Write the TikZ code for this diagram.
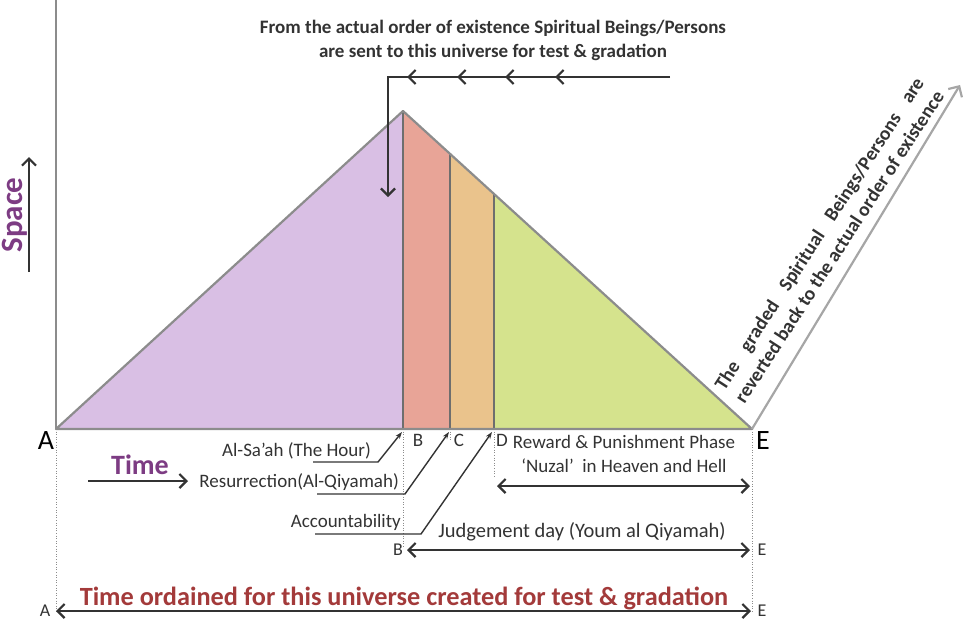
\documentclass[tikz,border=0pt]{standalone}
\usepackage{fontspec}
\setmainfont{Carlito}
\usetikzlibrary{arrows.meta,decorations.markings}
\definecolor{lav}{HTML}{D9BFE4}
\definecolor{salm}{HTML}{E8A497}
\definecolor{orng}{HTML}{EAC38C}
\definecolor{grn}{HTML}{D5E38D}
\definecolor{bord}{HTML}{8C8C8C}
\definecolor{divc}{HTML}{6E6E6E}
\definecolor{darkc}{HTML}{333333}
\definecolor{purp}{HTML}{7D3C83}
\definecolor{redc}{HTML}{A33A3A}
\definecolor{lgray}{HTML}{A6A6A6}
\definecolor{txt}{HTML}{333333}
\newlength\myLTw
\newcommand\myRetTwo{reverted back to the actual order of existence}
\begin{document}
\settowidth\myLTw{\bfseries\fontsize{19.5}{24}\selectfont\myRetTwo}%
\begin{tikzpicture}[x=1pt,y=-1pt,
  darkarrow/.style={draw=darkc, line width=2.2pt},
  barbtip/.style={-{Straight Barb[length=7pt,width=14pt,line width=2.2pt]}},
  dbltip/.style={{Straight Barb[length=7pt,width=14pt,line width=2.2pt]}-{Straight Barb[length=7pt,width=14pt,line width=2.2pt]}},
  leader/.style={draw=darkc, line width=1.4pt, -{Stealth[length=7pt,width=5pt]}},
  dotline/.style={draw=bord, line width=0.6pt, dotted},
  lbl/.style={text=txt, inner sep=0pt, font=\fontsize{19}{22}\selectfont},
  bigletter/.style={text=black, inner sep=0pt, font=\fontsize{28}{30}\selectfont},
  smallletter/.style={text=txt, inner sep=0pt, font=\fontsize{18}{20}\selectfont}]
\useasboundingbox (0,0) rectangle (963,622);
% key points
\coordinate (A) at (56,429);
\coordinate (P) at (403,111);
\coordinate (E) at (752,429);
\coordinate (B) at (403,429);
\coordinate (C) at (450,429);
\coordinate (D) at (494,429);
\coordinate (Ct) at (450,154);
\coordinate (Dt) at (494,194);
\coordinate (top) at (56,0);
% fills
\fill[lav] (A) -- (P) -- (B) -- cycle;
\fill[salm] (B) -- (P) -- (Ct) -- (C) -- cycle;
\fill[orng] (C) -- (Ct) -- (Dt) -- (D) -- cycle;
\fill[grn] (D) -- (Dt) -- (E) -- cycle;
% dividers
\draw[divc, line width=2pt] (B) -- (P) (C) -- (Ct) (D) -- (Dt);
% outline and axis
\draw[bord, line width=2.2pt] (top) -- (A);
\draw[bord, line width=2.2pt, line join=round] (A) -- (P) -- (E) -- cycle;
% dotted guides
\coordinate (Abot) at (56,612);
\coordinate (Ebot) at (752,612);
\coordinate (Bbot) at (403,548);
\coordinate (Cbot) at (450,440);
\coordinate (Dbot) at (494,478);
\draw[dotline] (A) -- (Abot) (E) -- (Ebot) (B) -- (Bbot) (C) -- (Cbot) (D) -- (Dbot);
% return arrow
\coordinate (R) at (960,85);
\draw[lgray, line width=2.2pt, -{Straight Barb[length=8pt,width=16pt,line width=2.2pt]}] (E) -- (R);
\node[rotate=57, align=center, text=txt, font=\bfseries\fontsize{19.5}{24}\selectfont] (ret) at (829,240)
  {\makebox[\myLTw][s]{The graded Spiritual Beings/Persons are}\\\myRetTwo};
% top text and arrow
\node[align=center, text=txt, font=\bfseries\fontsize{19}{24}\selectfont] (toptxt) at (493,40)
  {From the actual order of existence Spiritual Beings/Persons\\are sent to this universe for test \& gradation};
\coordinate (S0) at (670,77);
\coordinate (S1) at (388,77);
\coordinate (S2) at (388,197);
\draw[darkarrow, barbtip, line join=miter,
  postaction={decorate, decoration={markings,
    mark=at position 115pt with {\arrow{Straight Barb[length=7pt,width=14pt,line width=2.2pt]}},
    mark=at position 165pt with {\arrow{Straight Barb[length=7pt,width=14pt,line width=2.2pt]}},
    mark=at position 213pt with {\arrow{Straight Barb[length=7pt,width=14pt,line width=2.2pt]}},
    mark=at position 263pt with {\arrow{Straight Barb[length=7pt,width=14pt,line width=2.2pt]}}}}]
  (S0) -- (S1) -- (S2);
% Space
\node[rotate=90, text=purp, font=\bfseries\fontsize{31}{33}\selectfont, inner sep=0pt] (space) at (15,215) {Space};
\coordinate (sp0) at (29,272);
\coordinate (sp1) at (29,157);
\draw[darkarrow, barbtip] (sp0) -- (sp1);
% letters
\node[bigletter] (Alab) at (46,441) {A};
\node[bigletter] (Elab) at (763,441) {E};
\node[lbl, font=\fontsize{19}{20}\selectfont] (Blab) at (418,440) {B};
\node[lbl, font=\fontsize{19}{20}\selectfont] (Clab) at (459,440) {C};
\node[lbl, font=\fontsize{19}{20}\selectfont] (Dlab) at (502,440) {D};
% Time
\node[text=purp, font=\bfseries\fontsize{28}{30}\selectfont, inner sep=0pt] (time) at (140,465) {Time};
\coordinate (t0) at (88,481);
\coordinate (t1) at (188,481);
\draw[darkarrow, barbtip] (t0) -- (t1);
% leader labels
\node[lbl, anchor=east] (hour) at (371,451) {Al-Sa’ah (The Hour)};
\node[lbl, anchor=east] (resur) at (399,482) {Resurrection(Al-Qiyamah)};
\node[lbl, anchor=east] (acc) at (401,522) {Accountability};
\coordinate (h0) at (313,462); \coordinate (h1) at (378,462); \coordinate (h2) at (402,432);
\coordinate (r0) at (317,494); \coordinate (r1) at (405,494); \coordinate (r2) at (449,432);
\coordinate (a0) at (315,534); \coordinate (a1) at (421,534); \coordinate (a2) at (492,432);
\draw[leader] (h0) -- (h1) -- (h2);
\draw[leader] (r0) -- (r1) -- (r2);
\draw[leader] (a0) -- (a1) -- (a2);
% reward phase
\node[lbl, font=\fontsize{19}{24}\selectfont, align=center] (reward) at (624,454)
  {Reward \& Punishment Phase\\‘Nuzal’\ \ in Heaven and Hell};
\coordinate (rw0) at (497,486);
\coordinate (rw1) at (750,486);
\draw[darkarrow, dbltip] (rw0) -- (rw1);
% judgement day
\node[lbl, font=\fontsize{20.5}{22}\selectfont] (judge) at (582,532) {Judgement day (Youm al Qiyamah)};
\node[smallletter] (Bs) at (398,550) {B};
\node[smallletter] (Es) at (762,550) {E};
\coordinate (j0) at (407,550);
\coordinate (j1) at (750,550);
\draw[darkarrow, dbltip] (j0) -- (j1);
% bottom
\node[text=redc, font=\bfseries\fontsize{26.3}{28}\selectfont, inner sep=0pt] (ordained) at (404,598)
  {Time ordained for this universe created for test \& gradation};
\node[smallletter] (As2) at (45,611) {A};
\node[smallletter] (Es2) at (762,611) {E};
\coordinate (o0) at (56,611);
\coordinate (o1) at (751,611);
\draw[darkarrow, dbltip] (o0) -- (o1);
\end{tikzpicture}
\end{document}
